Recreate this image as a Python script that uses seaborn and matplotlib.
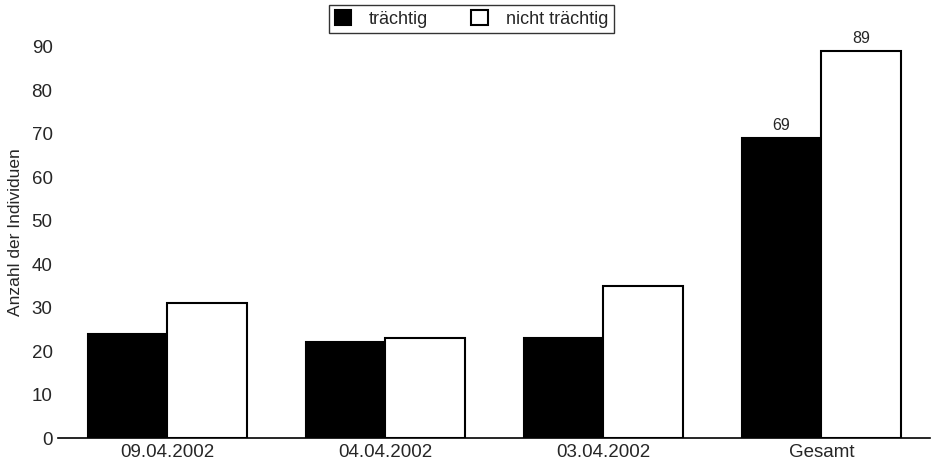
import matplotlib
matplotlib.use("Agg")
import matplotlib.pyplot as plt
import seaborn as sns
import pandas as pd

categories = ["09.04.2002", "04.04.2002", "03.04.2002", "Gesamt"]
traechtig = [24, 22, 23, 69]
nicht_traechtig = [31, 23, 35, 89]
series_names = ["trächtig", "nicht trächtig"]
yticks = [0, 10, 20, 30, 40, 50, 60, 70, 80, 90]

df = pd.DataFrame({
    "Kategorie": categories * 2,
    "Anzahl": traechtig + nicht_traechtig,
    "Status": [series_names[0]] * len(categories) + [series_names[1]] * len(categories),
})

sns.set_theme(style="white")
plt.rcParams["font.family"] = ["Liberation Sans", "DejaVu Sans"]

fig = plt.figure(figsize=(9.37, 4.68), dpi=100)
ax = fig.add_axes([0.062, 0.064, 0.931, 0.882])

sns.barplot(data=df, x="Kategorie", y="Anzahl", hue="Status",
            palette=["black", "white"], edgecolor="black", linewidth=1.5,
            width=0.73, ax=ax, saturation=1)

ax.set_ylim(0, 95)
ax.set_xlim(-0.5, 3.5)
ax.set_yticks(yticks)
ax.tick_params(axis="both", labelsize=13.5, length=0, pad=4)
ax.set_xlabel("")
ax.set_ylabel("Anzahl der Individuen", fontsize=12.5, labelpad=6)
for s in ["top", "right", "left"]:
    ax.spines[s].set_visible(False)
ax.spines["bottom"].set_color("black")
ax.spines["bottom"].set_linewidth(1.2)

# labels on Gesamt bars only
for cont in ax.containers:
    bar = cont.patches[-1]
    ax.text(bar.get_x() + bar.get_width() / 2, bar.get_height() + 1.2,
            f"{int(bar.get_height())}", ha="center", va="bottom", fontsize=11.5)

handles, labels = ax.get_legend_handles_labels()
ax.legend_.remove()
leg = fig.legend(handles, labels, loc="upper center", bbox_to_anchor=(0.503, 0.99),
                 bbox_transform=fig.transFigure, ncol=2,
                 frameon=True, fontsize=13, handlelength=0.9, handleheight=0.9,
                 columnspacing=2.4, borderpad=0.3, handletextpad=1.0,
                 borderaxespad=0)
leg.get_frame().set_edgecolor("black")
leg.get_frame().set_linewidth(1.0)
leg.get_frame().set_boxstyle("square", pad=0)

fig.savefig("out.png", dpi=100)
